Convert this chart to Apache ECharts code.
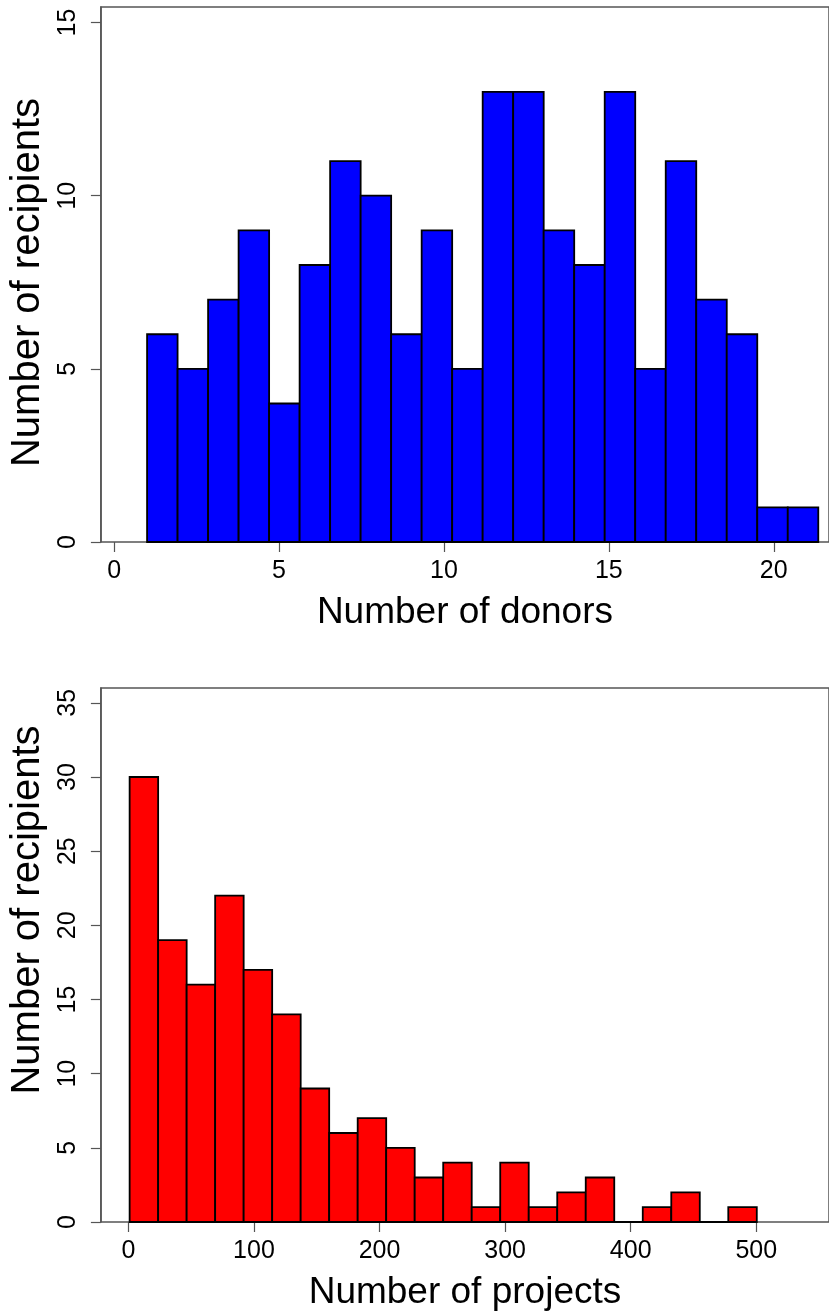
<!DOCTYPE html>
<html>
<head>
<meta charset="utf-8">
<script src="https://cdn.jsdelivr.net/npm/echarts@6/dist/echarts.min.js"></script>
<style>
html,body{margin:0;padding:0;background:#fff;}
#chart{width:829px;height:1312px;}
</style>
</head>
<body>
<div id="chart"></div>
<script>
// ---- Data ----
const donorBinStart = 1.0;
const donorBinWidth = 0.925;
const donorCounts = [6, 5, 7, 9, 4, 8, 11, 10, 6, 9, 5, 13, 13, 9, 8, 13, 5, 11, 7, 6, 1, 1];
const donorTicks = [0, 5, 10, 15, 20];
const donorCountTicks = [0, 5, 10, 15];

const projectBinStart = 1.0;
const projectBinWidth = 22.7;
const projectCounts = [30, 19, 16, 22, 17, 14, 9, 6, 7, 5, 3, 4, 1, 4, 1, 2, 3, 0, 1, 2, 0, 1];
const projectTicks = [0, 100, 200, 300, 400, 500];
const projectCountTicks = [0, 5, 10, 15, 20, 25, 30, 35];

function toBins(start, width, counts) {
  return counts.map((c, i) => [start + i * width, start + (i + 1) * width, c]);
}

const FONT = "'Liberation Sans', Arial, Helvetica, sans-serif";
const AXIS_COLOR = '#555';

function makeRender(fill) {
  return function (params, api) {
    const x0 = api.value(0), x1 = api.value(1), y = api.value(2);
    const p0 = api.coord([x0, 0]);
    const p1 = api.coord([x1, y]);
    return {
      type: 'rect',
      shape: { x: p0[0], y: p1[1], width: p1[0] - p0[0], height: p0[1] - p1[1] },
      style: { fill: fill, stroke: '#000', lineWidth: 1.8 }
    };
  };
}

function xAxisCfg(gridIndex, min, max, ticks, name) {
  return {
    type: 'value', gridIndex, min, max,
    axisLine: { show: false },
    splitLine: { show: false },
    axisTick: { show: true, inside: false, length: 10, customValues: ticks, lineStyle: { color: AXIS_COLOR, width: 1.2 } },
    axisLabel: { customValues: ticks, margin: 17, fontSize: 25, color: '#000', fontFamily: FONT },
    name, nameLocation: 'middle', nameGap: 52,
    nameTextStyle: { fontSize: 37, color: '#000', fontFamily: FONT }
  };
}
function yAxisCfg(gridIndex, max, ticks, name, namePadding) {
  return {
    type: 'value', gridIndex, min: 0, max, position: 'left',
    axisLine: { show: true, onZero: false, lineStyle: { color: AXIS_COLOR, width: 1.5 } },
    splitLine: { show: false },
    axisTick: { show: true, inside: false, length: 10, customValues: ticks, lineStyle: { color: AXIS_COLOR, width: 1.2 } },
    axisLabel: { show: true, customValues: ticks, rotate: 90, margin: 20, fontSize: 25, color: '#000', fontFamily: FONT },
    name, nameLocation: 'middle', nameRotate: 90, nameGap: 49,
    nameTextStyle: { fontSize: 40, color: '#000', fontFamily: FONT, padding: namePadding }
  };
}

const chart = echarts.init(document.getElementById('chart'), null, { renderer: 'canvas' });
chart.setOption({
  animation: false,
  backgroundColor: '#fff',
  grid: [
    { left: 99, top: 7, width: 734, height: 535, show: true, borderColor: AXIS_COLOR, borderWidth: 1.5, backgroundColor: 'transparent' },
    { left: 99, top: 688, width: 734, height: 534, show: true, borderColor: AXIS_COLOR, borderWidth: 1.5, backgroundColor: 'transparent' }
  ],
  xAxis: [
    xAxisCfg(0, -0.4, 21.675, donorTicks, 'Number of donors'),
    xAxisCfg(1, -21.88, 557.9, projectTicks, 'Number of projects')
  ],
  yAxis: [
    yAxisCfg(0, 15.45, donorCountTicks, 'Number of recipients', [0, 16, 0, 0]),
    yAxisCfg(1, 36.0, projectCountTicks, 'Number of recipients', [0, 0, 0, 90])
  ],
  series: [
    { type: 'custom', xAxisIndex: 0, yAxisIndex: 0, renderItem: makeRender('#0000FF'),
      data: toBins(donorBinStart, donorBinWidth, donorCounts), encode: { x: [0, 1], y: 2 } },
    { type: 'custom', xAxisIndex: 1, yAxisIndex: 1, renderItem: makeRender('#FF0000'),
      data: toBins(projectBinStart, projectBinWidth, projectCounts), encode: { x: [0, 1], y: 2 } }
  ]
});
</script>
</body>
</html>
